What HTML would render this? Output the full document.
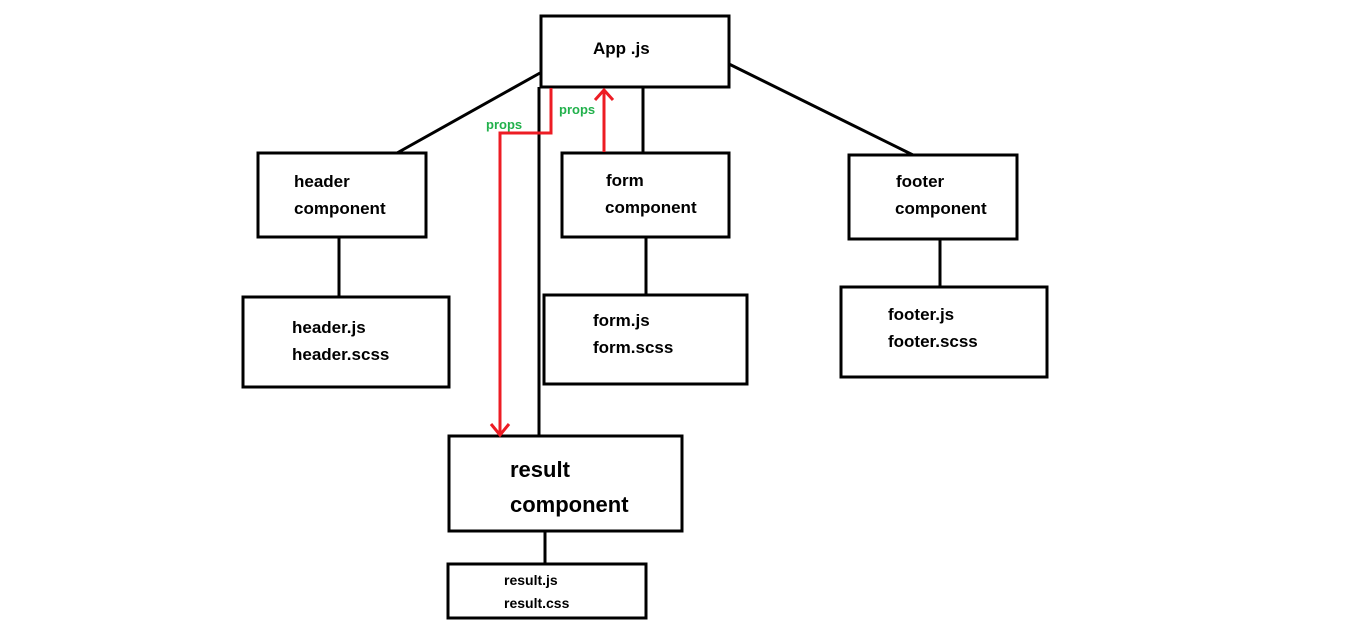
<!DOCTYPE html>
<html><head><style>html,body{margin:0;padding:0;background:#fff;width:1360px;height:623px;overflow:hidden}</style></head>
<body>
<svg width="1360" height="623" xmlns="http://www.w3.org/2000/svg" style="display:block;font-family:'Liberation Sans',sans-serif;font-weight:bold">
<g fill="none" stroke="#000" stroke-width="3">
<rect x="541" y="16" width="188" height="71"/>
<rect x="258" y="153" width="168" height="84"/>
<rect x="243" y="297" width="206" height="90"/>
<rect x="562" y="153" width="167" height="84"/>
<rect x="544" y="295" width="203" height="89"/>
<rect x="849" y="155" width="168" height="84"/>
<rect x="841" y="287" width="206" height="90"/>
<rect x="449" y="436" width="233" height="95"/>
<rect x="448" y="564" width="198" height="54"/>
<line x1="540" y1="73" x2="397" y2="153"/>
<line x1="729" y1="64" x2="913" y2="155"/>
<line x1="643" y1="87" x2="643" y2="153"/>
<line x1="539" y1="87" x2="539" y2="436"/>
<line x1="339" y1="237" x2="339" y2="297"/>
<line x1="646" y1="237" x2="646" y2="295"/>
<line x1="940" y1="239" x2="940" y2="287"/>
<line x1="545" y1="531" x2="545" y2="564"/>
</g>
<g fill="none" stroke="#ed1c24" stroke-width="3">
<polyline points="551,88 551,133 500,133 500,435"/>
<polyline points="491,424 500,435 509,424"/>
<line x1="604" y1="152" x2="604" y2="90"/>
<polyline points="595,100 604,90 613,100"/>
</g>
<g fill="#22b14c" font-size="13">
<text x="486" y="129">props</text>
<text x="559" y="114">props</text>
</g>
<g fill="#000" font-size="17">
<text x="593" y="54">App .js</text>
<text x="294" y="187">header</text>
<text x="294" y="214">component</text>
<text x="292" y="333">header.js</text>
<text x="292" y="360">header.scss</text>
<text x="606" y="186">form</text>
<text x="605" y="213">component</text>
<text x="593" y="326">form.js</text>
<text x="593" y="353">form.scss</text>
<text x="896" y="187">footer</text>
<text x="895" y="214">component</text>
<text x="888" y="320">footer.js</text>
<text x="888" y="347">footer.scss</text>
<text x="510" y="477" font-size="22">result</text>
<text x="510" y="512" font-size="22">component</text>
<text x="504" y="585" font-size="14">result.js</text>
<text x="504" y="608" font-size="14">result.css</text>
</g>
</svg>
</body></html>
